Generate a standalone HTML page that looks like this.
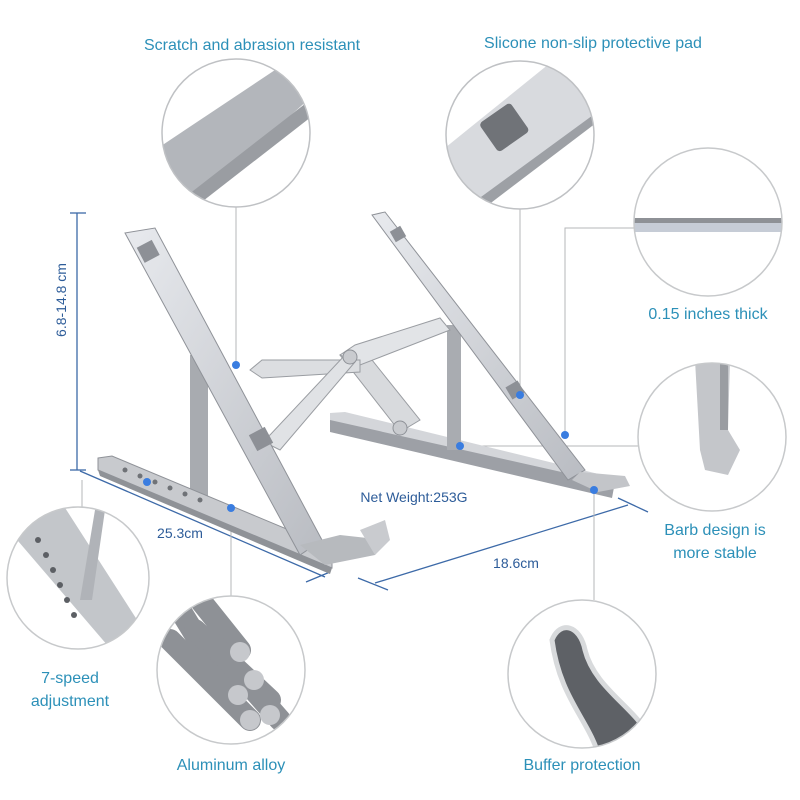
<!DOCTYPE html>
<html><head><meta charset="utf-8"><style>
html,body{margin:0;padding:0;background:#fff;}
svg{display:block;}
text{font-family:"Liberation Sans",sans-serif;}
.lab{fill:#2c90b8;font-size:16px;text-anchor:middle;}
.dim{fill:#2d5c99;font-size:14px;text-anchor:middle;}
</style></head><body>
<svg width="800" height="800" viewBox="0 0 800 800" xmlns="http://www.w3.org/2000/svg">
<defs>
<linearGradient id="al" x1="0" y1="0" x2="1" y2="1"><stop offset="0" stop-color="#e8eaee"/><stop offset="1" stop-color="#b9bcc2"/></linearGradient>
<linearGradient id="dk" x1="0" y1="0" x2="1" y2="0"><stop offset="0" stop-color="#a4a7ad"/><stop offset="1" stop-color="#8c9096"/></linearGradient>
<clipPath id="c1"><circle cx="236" cy="133" r="74"/></clipPath>
<clipPath id="c2"><circle cx="520" cy="135" r="74"/></clipPath>
<clipPath id="c3"><circle cx="708" cy="222" r="74"/></clipPath>
<clipPath id="c4"><circle cx="712" cy="437" r="74"/></clipPath>
<clipPath id="c5"><circle cx="78" cy="578" r="71"/></clipPath>
<clipPath id="c6"><circle cx="231" cy="670" r="74"/></clipPath>
<clipPath id="c7"><circle cx="582" cy="674" r="74"/></clipPath>
</defs>

<!-- labels -->
<text class="lab" x="252" y="50">Scratch and abrasion resistant</text>
<text class="lab" x="593" y="48">Slicone non-slip protective pad</text>
<text class="lab" x="708" y="319">0.15 inches thick</text>
<text class="lab" x="715" y="535">Barb design is</text>
<text class="lab" x="715" y="558">more stable</text>
<text class="lab" x="70" y="683">7-speed</text>
<text class="lab" x="70" y="706">adjustment</text>
<text class="lab" x="231" y="770">Aluminum alloy</text>
<text class="lab" x="582" y="770">Buffer protection</text>
<text class="dim" x="414" y="502">Net Weight:253G</text>
<text class="dim" x="180" y="538">25.3cm</text>
<text class="dim" x="516" y="568">18.6cm</text>
<text class="dim" x="0" y="0" transform="translate(66,300) rotate(-90)">6.8-14.8 cm</text>

<!-- dimension lines -->
<g stroke="#3d6aa8" stroke-width="1.3" fill="none">
<line x1="77" y1="213" x2="77" y2="470"/><line x1="70" y1="213" x2="86" y2="213"/><line x1="70" y1="470" x2="86" y2="470"/>
<line x1="80" y1="471" x2="325" y2="577"/><line x1="306" y1="582" x2="330" y2="572"/>
<line x1="375" y1="583" x2="628" y2="505"/><line x1="358" y1="578" x2="388" y2="590"/><line x1="618" y1="498" x2="648" y2="512"/>
</g>

<!-- connectors -->
<g stroke="#b5b7ba" stroke-width="1" fill="none">
<line x1="236" y1="207" x2="236" y2="365"/>
<line x1="520" y1="209" x2="520" y2="395"/>
<polyline points="634,228 565,228 565,435"/>
<line x1="638" y1="446" x2="460" y2="446"/>
<line x1="82" y1="507" x2="82" y2="480"/>
<line x1="231" y1="596" x2="231" y2="510"/>
<line x1="594" y1="600" x2="594" y2="490"/>
</g>

<!-- stand -->
<g>
<!-- right rear base -->
<polygon points="330,418 345,418 615,482 612,498 330,432" fill="#9da0a6"/>
<polygon points="330,413 345,412 615,478 615,484 330,420" fill="#d4d6da"/>
<!-- right vertical -->
<rect x="447" y="325" width="14" height="125" fill="#a9acb1"/>
<!-- right arm -->
<polygon points="372,215 385,212 585,470 568,480" fill="url(#al)" stroke="#8f9298" stroke-width="1"/>
<polygon points="580,472 625,476 630,486 598,492 572,480" fill="#c3c5c9"/>
<rect x="392" y="228" width="12" height="12" fill="#8d9096" transform="rotate(-30 398 234)"/>
<rect x="508" y="383" width="14" height="14" fill="#8d9096" transform="rotate(-30 515 390)"/>
<!-- linkage -->
<polygon points="340,355 360,345 420,420 400,432" fill="#d8dadd" stroke="#9a9da2"/>
<polygon points="340,355 355,345 440,318 450,330 360,365" fill="#e2e4e7" stroke="#9a9da2"/>
<polygon points="250,370 262,360 360,360 360,372 262,378" fill="#dcdee1" stroke="#9a9da2"/>
<polygon points="260,440 270,435 345,355 355,362 280,450" fill="#e0e2e5" stroke="#9a9da2"/>
<circle cx="350" cy="357" r="7" fill="#c9cbcf" stroke="#8f9298"/>
<circle cx="400" cy="428" r="7" fill="#c9cbcf" stroke="#8f9298"/>
<!-- left vertical -->
<rect x="190" y="355" width="18" height="150" fill="#a8abb0"/>
<!-- left base -->
<polygon points="98,458 112,456 332,548 332,568 98,470" fill="#c8cace" stroke="#8f9298"/>
<polygon points="98,470 332,568 330,574 100,476" fill="#8f9297"/>
<g fill="#6f7277"><circle cx="125" cy="470" r="2.5"/><circle cx="140" cy="476" r="2.5"/><circle cx="155" cy="482" r="2.5"/><circle cx="170" cy="488" r="2.5"/><circle cx="185" cy="494" r="2.5"/><circle cx="200" cy="500" r="2.5"/></g>
<!-- left arm -->
<polygon points="125,233 155,228 322,540 300,555" fill="url(#al)" stroke="#8f9298" stroke-width="1"/>
<polygon points="300,545 340,535 385,540 375,555 325,565" fill="#b7babe"/>
<polygon points="360,530 385,520 390,540 375,555" fill="#c9cbcf"/>
<rect x="140" y="243" width="17" height="17" fill="#8d9096" transform="rotate(-28 148 252)"/>
<rect x="252" y="430" width="18" height="18" fill="#8d9096" transform="rotate(-28 261 439)"/>
<!-- blue dots -->
<g fill="#3a7de0"><circle cx="236" cy="365" r="4"/><circle cx="520" cy="395" r="4"/><circle cx="565" cy="435" r="4"/><circle cx="460" cy="446" r="4"/><circle cx="147" cy="482" r="4"/><circle cx="231" cy="508" r="4"/><circle cx="594" cy="490" r="4"/></g>
</g>

<!-- circle 1 -->
<g clip-path="url(#c1)"><rect x="150" y="55" width="180" height="160" fill="#fff"/>
<polygon points="140,160 290,60 330,80 180,215" fill="#b3b6bb"/><polygon points="175,205 310,100 320,110 185,215" fill="#9a9da2"/></g>
<circle cx="236" cy="133" r="74" fill="none" stroke="#bfc1c4" stroke-width="1.5"/>
<!-- circle 2 -->
<g clip-path="url(#c2)"><polygon points="430,160 560,55 600,75 600,120 470,215" fill="#d8dade"/><polygon points="470,205 600,110 600,120 475,215" fill="#9da0a5"/>
<rect x="485" y="110" width="38" height="35" rx="4" fill="#707378" transform="rotate(-35 504 127)"/></g>
<circle cx="520" cy="135" r="74" fill="none" stroke="#bfc1c4" stroke-width="1.5"/>
<!-- circle 3 -->
<g clip-path="url(#c3)"><rect x="630" y="218" width="160" height="5" fill="#8e9196"/><rect x="630" y="223" width="160" height="9" fill="#c6ccd6"/></g>
<circle cx="708" cy="222" r="74" fill="none" stroke="#c7c9cb" stroke-width="1.5"/>
<!-- circle 4 -->
<g clip-path="url(#c4)"><polygon points="695,360 730,360 728,430 740,450 728,475 705,470 700,450" fill="#c4c6ca"/><rect x="720" y="360" width="8" height="70" fill="#9a9da2"/></g>
<circle cx="712" cy="437" r="74" fill="none" stroke="#c7c9cb" stroke-width="1.5"/>
<!-- circle 5 -->
<g clip-path="url(#c5)"><polygon points="0,520 60,500 150,640 120,660" fill="#c3c6ca"/><polygon points="80,600 95,510 105,510 92,600" fill="#b0b3b8"/>
<g fill="#5c5f64"><circle cx="38" cy="540" r="3"/><circle cx="46" cy="555" r="3"/><circle cx="53" cy="570" r="3"/><circle cx="60" cy="585" r="3"/><circle cx="67" cy="600" r="3"/><circle cx="74" cy="615" r="3"/></g></g>
<circle cx="78" cy="578" r="71" fill="none" stroke="#c7c9cb" stroke-width="1.5"/>
<!-- circle 6 -->
<g clip-path="url(#c6)"><g stroke="#8e9196" stroke-width="22" stroke-linecap="round">
<line x1="180" y1="610" x2="235" y2="700"/><line x1="200" y1="600" x2="240" y2="650"/><line x1="170" y1="640" x2="250" y2="720"/><line x1="195" y1="630" x2="270" y2="700"/><line x1="210" y1="640" x2="280" y2="720"/></g>
<g fill="#c6c8cc"><circle cx="240" cy="652" r="10"/><circle cx="254" cy="680" r="10"/><circle cx="238" cy="695" r="10"/><circle cx="250" cy="720" r="10"/><circle cx="270" cy="715" r="10"/></g></g>
<circle cx="231" cy="670" r="74" fill="none" stroke="#c7c9cb" stroke-width="1.5"/>
<!-- circle 7 -->
<g clip-path="url(#c7)"><path d="M552,640 C560,620 580,625 585,650 C595,690 640,710 650,740 L600,760 C590,720 560,700 552,640 Z" fill="#5e6166" stroke="#d8dadc" stroke-width="5"/></g>
<circle cx="582" cy="674" r="74" fill="none" stroke="#c7c9cb" stroke-width="1.5"/>
</svg>
</body></html>
